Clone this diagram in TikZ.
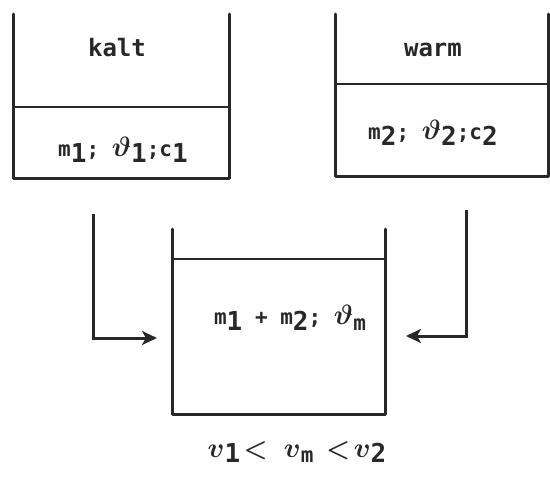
\documentclass[tikz,border=0pt]{standalone}
\usepackage{amsmath}
\usepackage{fontspec}
\setmonofont{DejaVu Sans Mono}
\usetikzlibrary{arrows.meta,positioning,calc}
\definecolor{Ink}{RGB}{40,40,40}
\tikzset{
  wall/.style={draw=Ink,line width=3pt,line join=round,line cap=round},
  surface/.style={draw=Ink,line width=2.6pt},
  flow/.style={-{Stealth[length=15pt,width=14pt,inset=4pt]},draw=Ink,line width=3pt},
  tag/.style={font=\ttfamily\bfseries\fontsize{24}{28}\selectfont,text=Ink,inner sep=0pt},
  qty/.style={font=\ttfamily\bfseries\fontsize{21}{26}\selectfont,text=Ink,inner sep=0pt}
}
\newcommand{\ix}[1]{\raisebox{-0.5ex}{\fontsize{26}{28}\selectfont #1}}
\newcommand{\tv}{\scalebox{1.35}{$\boldsymbol{\vartheta}$}}
\newcommand{\tu}{\scalebox{1.35}{$\boldsymbol{v}$}}
\newcommand{\lt}{\scalebox{1.3}{$\boldsymbol{<}$}}

\begin{document}
\begin{tikzpicture}[x=1pt,y=-1pt]
\useasboundingbox (0,0) rectangle (550,477);
\coordinate (kTL) at (13,14);
\coordinate (kBL) at (13,178);
\coordinate (kBR) at (229,178);
\coordinate (kTR) at (229,14);
\coordinate (kSL) at (13,107);
\coordinate (kSR) at (229,107);
\coordinate (wTL) at (335,14);
\coordinate (wBL) at (335,176);
\coordinate (wBR) at (548,176);
\coordinate (wTR) at (548,14);
\coordinate (wSL) at (335,84);
\coordinate (wSR) at (548,84);
\coordinate (mTL) at (172,229);
\coordinate (mBL) at (172,414);
\coordinate (mBR) at (385,414);
\coordinate (mTR) at (385,229);
\coordinate (mSL) at (172,259);
\coordinate (mSR) at (385,259);
\coordinate (kout) at (93,214);
\coordinate (inL) at (157,338);
\coordinate (wout) at (466,210);
\coordinate (inR) at (406,336);

\draw[wall](kTL)--(kBL)--(kBR)--(kTR);\draw[surface](kSL)--(kSR);
\draw[wall](wTL)--(wBL)--(wBR)--(wTR);\draw[surface](wSL)--(wSR);
\draw[wall](mTL)--(mBL)--(mBR)--(mTR);\draw[surface](mSL)--(mSR);
\draw[flow](kout)|-(inL);
\draw[flow](wout)|-(inR);

\node[tag] (kalt) at (117,48) {kalt};
\node[tag] (warm) at (433,50) {warm};
\node[qty] (kq) at (123,150) {m\ix{1}; \tv\ix{1};c\ix{1}};
\node[qty] (wq) at (433,133) {m\ix{2}; \tv\ix{2};c\ix{2}};
\node[qty] (mq) at (290,318) {m\ix{1} + m\ix{2}; \tv\raisebox{-0.5ex}{m}};
\node[qty] (rel) at (297,452) {\tu\ix{1}\,\lt\, \tu\raisebox{-0.5ex}{m} \lt\,\tu\ix{2}};
\end{tikzpicture}
\end{document}
